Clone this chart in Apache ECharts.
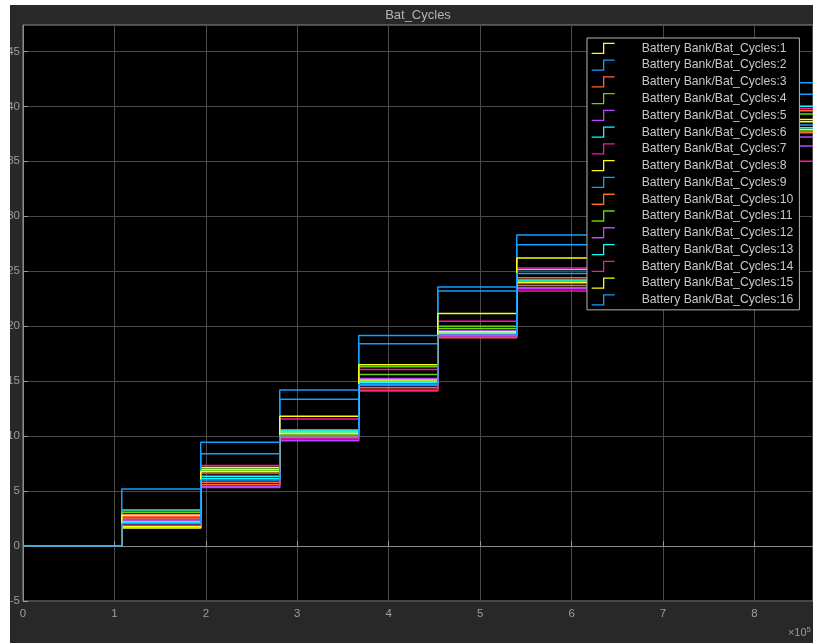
<!DOCTYPE html>
<html>
<head>
<meta charset="utf-8">
<script src="https://cdn.jsdelivr.net/npm/echarts@6/dist/echarts.min.js"></script>
<style>
  html, body { margin: 0; padding: 0; background: #ffffff; width: 813px; height: 643px; overflow: hidden; }
  #chart { position: absolute; left: 10px; top: 5px; width: 803px; height: 638px; background: #282828; }
</style>
</head>
<body>
<div id="chart"></div>
<script>
// Simulation time (s) at which each battery's cycle counter updates; last entry is the stop time
const stepTimes = [0, 108000, 194400, 280800, 367200, 453600, 540000, 626400, 712800, 799200, 864000];

// Cycle count held after each update time, one array per battery channel
const ch1  = [0, 1.75, 7.15, 10.45, 14.88, 19.40, 24.00, 28.9, 33.8, 38.60];
const ch2  = [0, 5.20, 9.45, 14.20, 19.15, 23.57, 28.30, 32.9, 37.5, 42.15];
const ch3  = [0, 2.70, 5.80, 10.18, 14.18, 19.10, 23.70, 28.3, 33.0, 37.60];
const ch4  = [0, 3.20, 7.00, 10.35, 16.30, 20.00, 24.05, 29.2, 34.2, 39.30];
const ch5  = [0, 2.45, 5.33, 9.85, 15.25, 19.60, 23.50, 27.8, 32.1, 36.40];
const ch6  = [0, 2.25, 6.36, 10.55, 15.00, 19.30, 25.15, 30.1, 35.0, 40.00];
const ch7  = [0, 2.85, 7.33, 11.55, 16.06, 20.45, 25.30, 30.1, 35.0, 39.80];
const ch8  = [0, 1.65, 6.95, 10.27, 15.10, 19.50, 23.95, 28.6, 33.2, 37.90];
const ch9  = [0, 3.30, 8.40, 13.35, 18.40, 23.20, 27.40, 32.0, 36.6, 41.10];
const ch10 = [0, 2.55, 5.60, 9.95, 14.40, 18.95, 24.40, 29.5, 34.5, 39.60];
const ch11 = [0, 3.05, 6.85, 10.10, 15.60, 19.80, 24.10, 28.6, 33.2, 37.75];
const ch12 = [0, 2.35, 5.45, 9.57, 14.60, 19.20, 23.40, 28.1, 32.6, 37.20];
const ch13 = [0, 2.15, 6.15, 10.40, 14.88, 19.35, 24.20, 28.8, 33.4, 38.05];
const ch14 = [0, 1.90, 6.60, 9.73, 14.10, 19.03, 23.20, 27.1, 31.0, 35.00];
const ch15 = [0, 2.80, 6.75, 11.80, 16.50, 21.15, 26.20, 30.4, 34.6, 38.80];
const ch16 = [0, 2.05, 6.00, 10.03, 14.70, 19.15, 24.80, 29.0, 33.6, 38.30];

const channels = [ch1, ch2, ch3, ch4, ch5, ch6, ch7, ch8, ch9, ch10, ch11, ch12, ch13, ch14, ch15, ch16];
const seriesNames = channels.map((_, i) => 'Battery Bank/Bat_Cycles:' + (i + 1));

// Scope line colour order (repeats every seven lines)
const palette = ['#ffff11', '#139fff', '#ff6929', '#64d413', '#b746ff', '#0fffff', '#ff13a6'];

const xTicks = [0, 1, 2, 3, 4, 5, 6, 7, 8];      // shown in units of 1e5 s
const yTicks = [-5, 0, 5, 10, 15, 20, 25, 30, 35, 40, 45];

const stepIcon = 'path://M0,10 L12,10 L12,0 L23,0';

const chart = echarts.init(document.getElementById('chart'), null, { renderer: 'canvas' });

const series = channels.map((vals, i) => {
  const pts = stepTimes.map((t, k) => [t, vals[Math.min(k, vals.length - 1)]]);
  return {
    name: seriesNames[i],
    type: 'line',
    step: 'end',
    showSymbol: false,
    symbol: 'none',
    silent: true,
    animation: false,
    color: palette[i % palette.length],
    lineStyle: { width: 1.5, color: palette[i % palette.length] },
    data: pts,
    z: 2
  };
});

const axisGray = '#9c9c9c';
const font = '"Liberation Sans", Arial, Helvetica, sans-serif';

chart.setOption({
  backgroundColor: '#282828',
  animation: false,
  grid: {
    left: 13, top: 20, right: 0, bottom: 42,
    outerBoundsMode: 'none',
    containLabel: false,
    show: true, backgroundColor: '#000000', borderColor: '#8c8c8c', borderWidth: 1
  },
  xAxis: {
    type: 'value',
    min: 0, max: 864000, interval: 100000,
    axisLine: { show: true, lineStyle: { color: '#8c8c8c', width: 1 } },
    axisTick: { show: true, inside: true, length: 5, lineStyle: { color: '#9a9a9a' } },
    splitLine: { show: true, lineStyle: { color: '#4a4a4a', width: 1 } },
    axisLabel: {
      color: axisGray, fontFamily: font, fontSize: 11.5, margin: 7,
      showMaxLabel: false,
      formatter: v => {
        const k = Math.round(v / 100000);
        return xTicks.indexOf(k) >= 0 ? String(k) : '';
      }
    }
  },
  yAxis: {
    type: 'value',
    min: -5, max: 47.4, interval: 5,
    axisLine: { show: true, lineStyle: { color: '#8c8c8c', width: 1 } },
    axisTick: { show: true, inside: true, length: 5, lineStyle: { color: '#9a9a9a' } },
    splitLine: { show: true, lineStyle: { color: '#4a4a4a', width: 1 } },
    axisLabel: {
      color: axisGray, fontFamily: font, fontSize: 11.5, margin: 3,
      showMaxLabel: false,
      formatter: v => (yTicks.indexOf(v) >= 0 ? String(v) : '')
    }
  },
  legend: {
    orient: 'vertical',
    left: 577, top: 33,
    padding: [4.3, 6, 4, 4],
    itemGap: 4.77,
    itemWidth: 23, itemHeight: 10,
    backgroundColor: '#000000',
    borderColor: '#b4b4b4', borderWidth: 1,
    selectedMode: false,
    z: 10,
    data: seriesNames.map((n, i) => ({
      name: n,
      icon: stepIcon,
      itemStyle: { color: 'rgba(0,0,0,0)', borderColor: palette[i % palette.length], borderWidth: 1.3 }
    })),
    formatter: name => '{g| }' + name,
    textStyle: {
      color: '#c8c8c8', fontFamily: font, fontSize: 12.2, lineHeight: 12,
      rich: { g: { width: 22, lineHeight: 12 } }
    }
  },
  graphic: [
    {
      type: 'text', x: 408, y: 10, silent: true,
      style: { text: 'Bat_Cycles', fill: '#b4b4b4', font: '13px ' + font, align: 'center', verticalAlign: 'middle' }
    },
    {
      type: 'text', x: 801, y: 628, silent: true,
      style: {
        text: '×10{s|5}', fill: axisGray, font: '11px ' + font, align: 'right', verticalAlign: 'middle',
        rich: { s: { fontSize: 8, fontFamily: font, fill: axisGray, verticalAlign: 'bottom', padding: [0, 0, 6, 0] } }
      }
    }
  ],
  series: series
});
</script>
</body>
</html>
